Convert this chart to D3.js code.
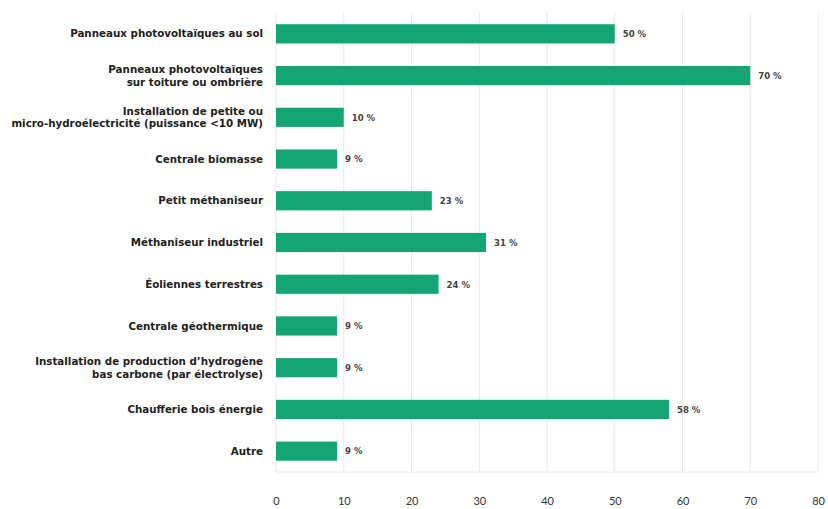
<!DOCTYPE html>
<html>
<head>
<meta charset="utf-8">
<script src="https://cdn.jsdelivr.net/npm/d3@7"></script>
<style>
    body { margin: 0; background: #ffffff; }
    svg { display: block; }
</style>
</head>
<body>
<script>
// categories (each entry is the list of lines of the label)
var categories = [
    ["Panneaux photovoltaïques au sol"],
    ["Panneaux photovoltaïques", "sur toiture ou ombrière"],
    ["Installation de petite ou", "micro-hydroélectricité (puissance <10 MW)"],
    ["Centrale biomasse"],
    ["Petit méthaniseur"],
    ["Méthaniseur industriel"],
    ["Éoliennes terrestres"],
    ["Centrale géothermique"],
    ["Installation de production d’hydrogène", "bas carbone (par électrolyse)"],
    ["Chaufferie bois énergie"],
    ["Autre"]
];

// share of answers, in percent
var values = [50, 70, 10, 9, 23, 31, 24, 9, 9, 58, 9];

// x axis ticks
var xTicks = [0, 10, 20, 30, 40, 50, 60, 70, 80];

window.onload = function() {
    makeGraph();
};

/*
 * Draw the horizontal bar chart.
 */
function makeGraph()
{
    var width = 828,
        height = 509,
        left = 276,
        right = 818,
        top = 13,
        bottom = 472,
        barColor = "#14a574",
        gridColor = "#e8e8e8",
        labelFont = "'DejaVu Sans', sans-serif",
        valueFont = "'DejaVu Sans Condensed', 'DejaVu Sans', sans-serif";

    var svg = d3.select("body").append("svg")
        .attr("width", width)
        .attr("height", height);

    var rows = d3.range(categories.length);

    // scales
    var x = d3.scaleLinear()
        .domain([0, 80])
        .range([left, right]);

    var y = d3.scaleBand()
        .domain(rows)
        .range([top, bottom])
        .paddingInner(0.54)
        .paddingOuter(0.27);

    // vertical grid lines
    svg.append("g")
        .selectAll("line")
        .data(xTicks)
        .enter()
        .append("line")
            .attr("x1", function(d) { return x(d); })
            .attr("x2", function(d) { return x(d); })
            .attr("y1", top)
            .attr("y2", bottom)
            .attr("stroke", gridColor)
            .attr("stroke-width", 1);

    // bottom line of the plot
    svg.append("line")
        .attr("x1", left)
        .attr("x2", right)
        .attr("y1", bottom)
        .attr("y2", bottom)
        .attr("stroke", gridColor)
        .attr("stroke-width", 1);

    // bars
    svg.append("g")
        .selectAll("rect")
        .data(rows)
        .enter()
        .append("rect")
            .attr("x", x(0))
            .attr("y", function(i) { return y(i); })
            .attr("width", function(i) { return x(values[i]) - x(0); })
            .attr("height", y.bandwidth())
            .attr("fill", barColor);

    // value labels
    svg.append("g")
        .selectAll("text")
        .data(rows)
        .enter()
        .append("text")
            .attr("x", function(i) { return x(values[i]) + 8; })
            .attr("y", function(i) { return y(i) + y.bandwidth() / 2; })
            .attr("dy", "0.35em")
            .style("font-family", valueFont)
            .style("font-size", "9.5px")
            .style("font-weight", "bold")
            .style("fill", "#444")
            .text(function(i) { return values[i] + " %"; });

    // category labels, one or two lines
    var labels = svg.append("g")
        .selectAll("text")
        .data(rows)
        .enter()
        .append("text")
            .attr("x", left - 13)
            .attr("y", function(i) { return y(i) + y.bandwidth() / 2; })
            .attr("text-anchor", "end")
            .style("font-family", labelFont)
            .style("font-size", "10.3px")
            .style("font-weight", "bold")
            .style("fill", "#222");

    labels.selectAll("tspan")
        .data(function(i) { return categories[i]; })
        .enter()
        .append("tspan")
            .attr("x", left - 13)
            .attr("dy", function(d, j, nodes) {
                var n = nodes.length;
                if (j == 0) return (0.35 - (n - 1) * 0.62) + "em";
                return "1.24em";
            })
            .text(function(d) { return d; });

    // x axis tick labels
    var xAxis = d3.axisBottom(x)
        .tickValues(xTicks)
        .tickSize(0)
        .tickPadding(0);

    var axis = svg.append("g")
        .attr("transform", "translate(0," + (bottom + 25) + ")")
        .call(xAxis);

    axis.select(".domain").remove();
    axis.selectAll("text")
        .style("font-family", "'Lato', 'DejaVu Sans', sans-serif")
        .style("font-size", "11px")
        .style("fill", "#333");
}
</script>
</body>
</html>
